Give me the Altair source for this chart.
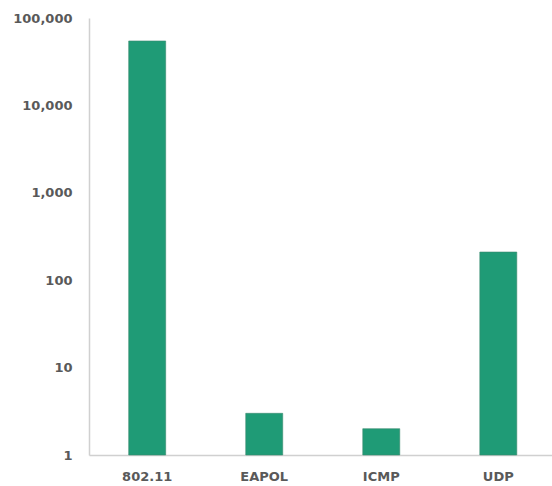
import altair as alt
import pandas as pd

protocols = ["802.11", "EAPOL", "ICMP", "UDP"]
counts = [54600, 3, 2, 210]

df = pd.DataFrame({"protocol": protocols, "count": counts})

label_font = "DejaVu Sans"
label_color = "#595959"
axis_color = "#d0d0d0"

chart = alt.Chart(df).mark_bar(color="#1f9b76", stroke="#3a8a6e", strokeWidth=0.6).encode(
    x=alt.X(
        "protocol:N",
        sort=protocols,
        scale=alt.Scale(paddingInner=0.684, paddingOuter=0.32, align=0.53),
        axis=alt.Axis(
            title=None, labelAngle=0, ticks=False, domainColor=axis_color,
            domainWidth=1.5, labelFont=label_font, labelFontWeight="bold",
            labelFontSize=13, labelColor=label_color, labelPadding=15,
        ),
    ),
    y=alt.Y(
        "count:Q",
        scale=alt.Scale(type="log", domain=[1, 100000], nice=False),
        axis=alt.Axis(
            title=None, grid=False, ticks=False, values=[1, 10, 100, 1000, 10000, 100000],
            format=",", domainColor=axis_color, domainWidth=1.5,
            labelFont=label_font, labelFontWeight="bold", labelFontSize=13,
            labelColor=label_color, labelPadding=17,
        ),
    ),
    y2=alt.datum(1),
).properties(
    width=463,
    height=437,
    autosize=alt.AutoSizeParams(type="none"),
    padding={"left": 89, "top": 18, "right": 0, "bottom": 31},
).configure_view(stroke=None)

chart.save("out.html", embed_options={"renderer": "svg", "actions": False})
